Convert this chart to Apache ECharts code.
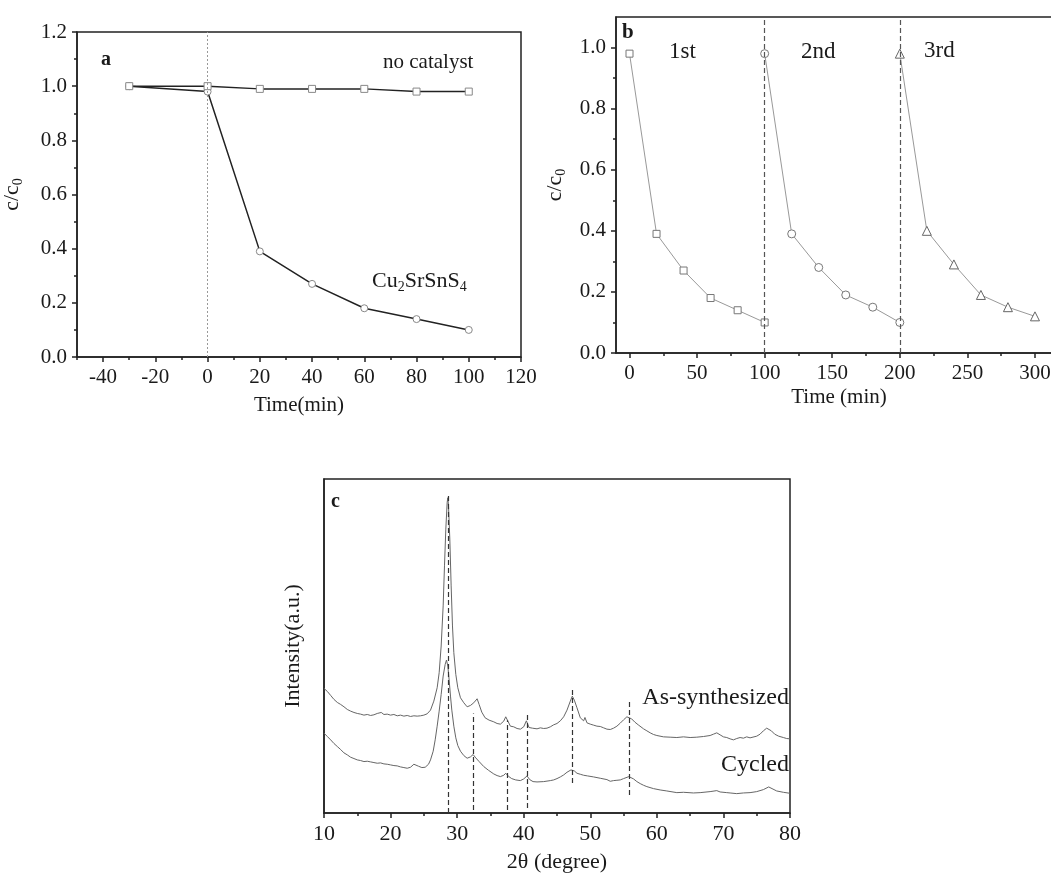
<!DOCTYPE html>
<html><head><meta charset="utf-8">
<script src="https://cdn.jsdelivr.net/npm/echarts@6/dist/echarts.min.js"></script>
<style>html,body{margin:0;padding:0;background:#fff}#c{width:1051px;height:876px}</style>
</head><body><div id="c"></div>
<script>
// ---- panel a ----
const aTime = [-30, 0, 20, 40, 60, 80, 100];
const aNoCatalyst = [1.0, 1.0, 0.99, 0.99, 0.99, 0.98, 0.98];
const aCatalyst = [1.0, 0.98, 0.39, 0.27, 0.18, 0.14, 0.10];
const aXTicks = [-40, -20, 0, 20, 40, 60, 80, 100, 120];
const aXMinor = [-50, -30, -10, 10, 30, 50, 70, 90, 110];
// ---- panel b ----
const bTime1 = [0, 20, 40, 60, 80, 100];
const bRun1 = [0.98, 0.39, 0.27, 0.18, 0.14, 0.10];
const bTime2 = [100, 120, 140, 160, 180, 200];
const bRun2 = [0.98, 0.39, 0.28, 0.19, 0.15, 0.10];
const bTime3 = [200, 220, 240, 260, 280, 300];
const bRun3 = [0.98, 0.40, 0.29, 0.19, 0.15, 0.12];
const bXTicks = [0, 50, 100, 150, 200, 250, 300];
const bXMinor = [25, 75, 125, 175, 225, 275];
const bYTicks = [0, 0.2, 0.4, 0.6, 0.8, 1.0];
const bYMinor = [0.1, 0.3, 0.5, 0.7, 0.9];
const bCycleLines = [100, 200];
// ---- panel c (XRD) ----
const cAsTheta = [10,10.5,11,11.5,12,12.5,13,13.5,14,14.5,15,15.5,16,16.5,17,17.5,18,18.3,18.6,19,19.5,20,20.5,21,21.5,22,22.5,23,23.5,24,24.5,25,25.5,26,26.5,27,27.3,27.6,27.9,28.1,28.3,28.5,28.6,28.7,28.9,29.1,29.3,29.5,29.8,30.1,30.5,31,31.5,32,32.5,33,33.3,33.7,34.2,34.8,35.5,36,36.5,37,37.3,37.6,38,38.5,39,39.5,40,40.4,40.8,41.3,42,42.5,43,43.5,44,44.5,45,45.5,46,46.5,47,47.3,47.6,48,48.5,49,49.2,49.5,50,50.5,51,51.5,52,52.5,53,53.5,54,54.5,55,55.5,55.8,56.2,56.7,57.2,58,58.5,59,59.5,60,61,62,63,64,65,66,67,68,68.5,69,69.5,70,70.5,71,71.5,72,72.5,73,73.5,74,75,75.5,76,76.5,76.8,77.2,77.7,78.3,79,79.5,80];
const cAsI = [37.3,36.4,35.2,34.0,33.1,32.5,31.8,31.0,30.5,30.1,29.8,29.6,29.3,29.5,29.2,29.4,29.8,29.4,30.1,29.5,29.6,29.3,29.5,29.1,29.3,29.0,29.2,28.9,29.1,29.0,29.1,29.3,29.7,30.8,33.5,37.5,42.0,50.0,62.0,74.0,85.0,93.0,94.4,92.0,82.0,68.0,56.0,48.0,41.5,37.5,34.5,33.0,31.8,32.2,33.0,34.2,32.5,30.2,28.5,27.8,27.3,26.8,26.6,27.5,28.8,27.6,26.0,25.8,25.3,25.1,25.8,27.6,25.6,25.4,25.2,25.5,25.3,25.4,25.8,26.4,26.8,27.6,28.8,30.8,33.5,35.0,33.8,31.5,28.5,27.6,28.6,27.0,26.6,26.3,26.0,25.9,25.5,25.1,25.0,25.4,26.0,26.9,27.9,28.8,29.2,28.2,27.2,26.4,25.2,24.6,24.0,23.5,23.2,22.8,22.7,22.6,22.8,22.6,22.7,22.9,23.2,23.6,24.0,23.4,22.8,22.6,22.2,21.9,22.3,22.6,22.4,22.8,22.5,23.0,23.6,24.6,25.4,25.5,24.6,23.6,23.0,22.6,22.3,22.2];
const cCyTheta = [10,10.5,11,11.5,12,12.5,13,13.5,14,14.5,15,15.5,16,16.5,17,17.5,18,18.5,19,19.5,20,20.5,21,21.5,22,22.5,23,23.5,23.8,24.2,24.7,25.2,25.7,26,26.4,26.7,27,27.3,27.6,27.9,28.2,28.4,28.6,28.8,29.0,29.2,29.5,29.8,30.1,30.5,31,31.5,32,32.4,32.8,33.3,34,34.7,35.5,36,36.5,37,37.3,37.7,38.2,38.8,39.5,40,40.5,40.9,41.4,42,43,44,44.5,45,45.5,46,46.5,47.1,47.6,48,48.5,49,49.6,50.5,51.5,52.5,53,53.5,54,54.5,55,55.8,56.5,57,57.5,58,58.5,59.5,60.5,61.5,63,64,65.5,66.5,68,69,69.5,70.5,71,72,73,74,75,76,76.8,77.3,78,79,80];
const cCyI = [23.9,22.9,21.9,20.8,19.9,19.0,18.0,17.4,16.7,16.3,15.9,15.7,15.4,15.5,15.3,15.1,14.9,15.0,14.7,14.6,14.4,14.2,14.1,13.8,13.6,13.4,13.7,14.6,14.9,14.0,13.6,13.7,14.6,15.9,18.5,21.9,26.0,30.5,35.5,41.0,44.5,45.8,44.0,39.8,35.0,30.8,26.0,22.5,20.2,18.5,17.2,16.4,16.8,17.5,16.5,15.4,13.9,12.8,11.7,11.2,10.9,11.3,11.9,11.0,10.3,9.9,9.7,10.2,11.1,10.0,9.4,9.3,9.4,9.7,9.9,10.3,10.8,11.4,12.2,12.9,12.6,11.9,11.6,11.3,11.1,10.8,10.4,10.0,9.5,9.7,9.8,9.9,10.3,10.9,10.2,9.4,8.8,8.3,7.9,7.3,6.9,6.6,6.1,6.2,6.0,6.1,6.4,6.7,6.3,6.1,6.0,5.8,6.0,6.1,6.4,7.0,7.8,7.3,6.6,6.2,5.9];
const cPeakTheta = [28.6, 32.4, 37.5, 40.5, 47.35, 55.8];
const cPeakTop = [95, 29.8, 27.8, 30, 37.4, 33.8];
const cPeakBottom = [0, 0.9, 0.9, 1.5, 9, 5.4];

const F = "'Liberation Serif','Times New Roman',serif";
const INK = '#1a1a1a';
const pairs = (xs, ys) => xs.map((x, i) => [x, ys[i]]);
const lineS = { color: '#222', width: 1.5 };

function mainX(grid, min, max, name, gap, extra) {
  return Object.assign({
    type: 'value', gridIndex: grid, min: min, max: max, position: 'bottom',
    axisLine: { show: true, onZero: false, lineStyle: lineS },
    axisTick: { show: true, length: 5, lineStyle: lineS },
    axisLabel: { fontSize: 21, color: INK, fontFamily: F, margin: 10 },
    splitLine: { show: false },
    name: name, nameLocation: 'middle', nameGap: gap,
    nameTextStyle: { fontSize: 21, color: INK, fontFamily: F }
  }, extra || {});
}
function minorAxis(grid, min, max, vals, pos) {
  return {
    type: 'value', gridIndex: grid, min: min, max: max, position: pos,
    axisLine: { show: false, onZero: false }, axisLabel: { show: false }, splitLine: { show: false },
    axisTick: { show: true, length: 3, lineStyle: lineS, customValues: vals }
  };
}
const ccName = '{a|c/c}{s|0}';
const ccRich = { a: { fontSize: 22, fontFamily: F, color: INK, lineHeight: 26 },
                 s: { fontSize: 14, fontFamily: F, color: INK, lineHeight: 10, verticalAlign: 'bottom' } };

const option = {
  animation: false,
  backgroundColor: '#fff',
  grid: [
    { left: 77, top: 32, right: 530, bottom: 519, show: true, borderColor: '#222', borderWidth: 1.5, backgroundColor: 'transparent', outerBoundsMode: 'none' },
    { left: 616, top: 17, right: -11, bottom: 523, show: true, borderColor: '#222', borderWidth: 1.5, backgroundColor: 'transparent', outerBoundsMode: 'none' },
    { left: 324, top: 479, right: 261, bottom: 63, show: true, borderColor: '#222', borderWidth: 1.5, backgroundColor: 'transparent', outerBoundsMode: 'none' }
  ],
  xAxis: [
    mainX(0, -50, 120, 'Time(min)', 38, {
      axisTick: { show: true, length: 5, lineStyle: lineS, customValues: aXTicks },
      axisLabel: { fontSize: 21, color: INK, fontFamily: F, margin: 10, customValues: aXTicks }
    }),
    minorAxis(0, -50, 120, aXMinor, 'bottom'),
    mainX(1, -10, 320, 'Time (min)', 34, {
      axisTick: { show: true, length: 5, lineStyle: lineS, customValues: bXTicks },
      axisLabel: { fontSize: 21, color: INK, fontFamily: F, margin: 10, customValues: bXTicks }
    }),
    minorAxis(1, -10, 320, bXMinor, 'bottom'),
    mainX(2, 10, 80, '2θ (degree)', 38, {
      interval: 10,
      minorTick: { show: true, splitNumber: 2, length: 3, lineStyle: lineS },
      axisLabel: { fontSize: 22, color: INK, fontFamily: F, margin: 10 },
      nameTextStyle: { fontSize: 22, color: INK, fontFamily: F }
    })
  ],
  yAxis: [
    {
      type: 'value', gridIndex: 0, min: 0, max: 1.2, interval: 0.2,
      axisLine: { show: true, onZero: false, lineStyle: lineS },
      axisTick: { show: true, length: 5, lineStyle: lineS },
      minorTick: { show: true, splitNumber: 2, length: 3, lineStyle: lineS },
      axisLabel: { fontSize: 21, color: INK, fontFamily: F, margin: 10, formatter: v => v.toFixed(1) },
      splitLine: { show: false },
      name: ccName, nameLocation: 'middle', nameRotate: 90, nameGap: 52,
      nameTextStyle: { rich: ccRich }
    },
    {
      type: 'value', gridIndex: 1, min: 0, max: 1.1,
      axisLine: { show: true, onZero: false, lineStyle: lineS },
      axisTick: { show: true, length: 5, lineStyle: lineS, customValues: bYTicks },
      axisLabel: { fontSize: 21, color: INK, fontFamily: F, margin: 10, customValues: bYTicks, formatter: v => v.toFixed(1) },
      splitLine: { show: false },
      name: ccName, nameLocation: 'middle', nameRotate: 90, nameGap: 48,
      nameTextStyle: { rich: ccRich }
    },
    minorAxis(1, 0, 1.1, bYMinor, 'left'),
    {
      type: 'value', gridIndex: 2, min: 0, max: 100,
      axisLine: { show: true, onZero: false, lineStyle: lineS },
      axisTick: { show: false }, axisLabel: { show: false }, splitLine: { show: false },
      name: 'Intensity(a.u.)', nameLocation: 'middle', nameRotate: 90, nameGap: 20,
      nameTextStyle: { fontSize: 22, color: INK, fontFamily: F }
    }
  ],
  series: [
    {
      name: 'Cu2SrSnS4', type: 'line', xAxisIndex: 0, yAxisIndex: 0,
      data: pairs(aTime, aCatalyst), symbol: 'circle', symbolSize: 7,
      lineStyle: { color: '#222', width: 1.5 },
      itemStyle: { color: '#fff', borderColor: '#888', borderWidth: 1 },
      emphasis: { disabled: true }, z: 3,
      markLine: {
        silent: true, symbol: 'none', label: { show: false },
        lineStyle: { color: '#999', type: [2, 2], width: 1 },
        data: [{ xAxis: 0 }]
      }
    },
    {
      name: 'no catalyst', type: 'line', xAxisIndex: 0, yAxisIndex: 0,
      data: pairs(aTime, aNoCatalyst), symbol: 'rect', symbolSize: 7,
      lineStyle: { color: '#222', width: 1.5 },
      itemStyle: { color: '#fff', borderColor: '#888', borderWidth: 1 },
      emphasis: { disabled: true }, z: 4
    },
    {
      name: '1st', type: 'line', xAxisIndex: 2, yAxisIndex: 1,
      data: pairs(bTime1, bRun1), symbol: 'rect', symbolSize: 7,
      lineStyle: { color: '#999', width: 1 },
      itemStyle: { color: '#fff', borderColor: '#777', borderWidth: 1 },
      emphasis: { disabled: true }, z: 3,
      markLine: {
        silent: true, symbol: 'none', label: { show: false },
        lineStyle: { color: '#555', type: [5, 3], width: 1.2 },
        data: bCycleLines.map(v => ({ xAxis: v }))
      }
    },
    {
      name: '2nd', type: 'line', xAxisIndex: 2, yAxisIndex: 1,
      data: pairs(bTime2, bRun2), symbol: 'circle', symbolSize: 8,
      lineStyle: { color: '#999', width: 1 },
      itemStyle: { color: '#fff', borderColor: '#777', borderWidth: 1 },
      emphasis: { disabled: true }, z: 3
    },
    {
      name: '3rd', type: 'line', xAxisIndex: 2, yAxisIndex: 1,
      data: pairs(bTime3, bRun3), symbol: 'triangle', symbolSize: 9,
      lineStyle: { color: '#999', width: 1 },
      itemStyle: { color: '#fff', borderColor: '#666', borderWidth: 1 },
      emphasis: { disabled: true }, z: 3
    },
    {
      name: 'As-synthesized', type: 'line', xAxisIndex: 4, yAxisIndex: 3,
      data: pairs(cAsTheta, cAsI), showSymbol: false, symbol: 'none',
      lineStyle: { color: '#666', width: 1 }, emphasis: { disabled: true },
      markLine: {
        silent: true, symbol: 'none', label: { show: false },
        lineStyle: { color: '#333', type: [5, 3], width: 1.2 },
        data: cPeakTheta.map((t, i) => [{ coord: [t, cPeakBottom[i]] }, { coord: [t, cPeakTop[i]] }])
      }
    },
    {
      name: 'Cycled', type: 'line', xAxisIndex: 4, yAxisIndex: 3,
      data: pairs(cCyTheta, cCyI), showSymbol: false, symbol: 'none',
      lineStyle: { color: '#666', width: 1 }, emphasis: { disabled: true }
    }
  ],
  graphic: [
    { type: 'text', x: 101, y: 50, style: { text: 'a', font: 'bold 20px ' + F, fill: INK } },
    { type: 'text', x: 383, y: 52, style: { text: 'no catalyst', font: '21px ' + F, fill: INK } },
    { type: 'text', x: 372, y: 268, style: { text: '{a|Cu}{s|2}{a|SrSnS}{s|4}',
        rich: { a: { fontSize: 22, fontFamily: F, fill: INK, lineHeight: 26 },
                s: { fontSize: 14, fontFamily: F, fill: INK, lineHeight: 10, verticalAlign: 'bottom' } } } },
    { type: 'text', x: 622, y: 22, style: { text: 'b', font: 'bold 21px ' + F, fill: INK } },
    { type: 'text', x: 669, y: 40, style: { text: '1st', font: '23px ' + F, fill: INK } },
    { type: 'text', x: 801, y: 40, style: { text: '2nd', font: '23px ' + F, fill: INK } },
    { type: 'text', x: 924, y: 39, style: { text: '3rd', font: '23px ' + F, fill: INK } },
    { type: 'text', x: 331, y: 492, style: { text: 'c', font: 'bold 20px ' + F, fill: INK } },
    { type: 'text', x: 789, y: 686, style: { text: 'As-synthesized', font: '24px ' + F, fill: INK, align: 'right' } },
    { type: 'text', x: 789, y: 753, style: { text: 'Cycled', font: '24px ' + F, fill: INK, align: 'right' } }
  ]
};
const chart = echarts.init(document.getElementById('c'), null, { renderer: 'canvas' });
chart.setOption(option);
</script>
</body></html>
